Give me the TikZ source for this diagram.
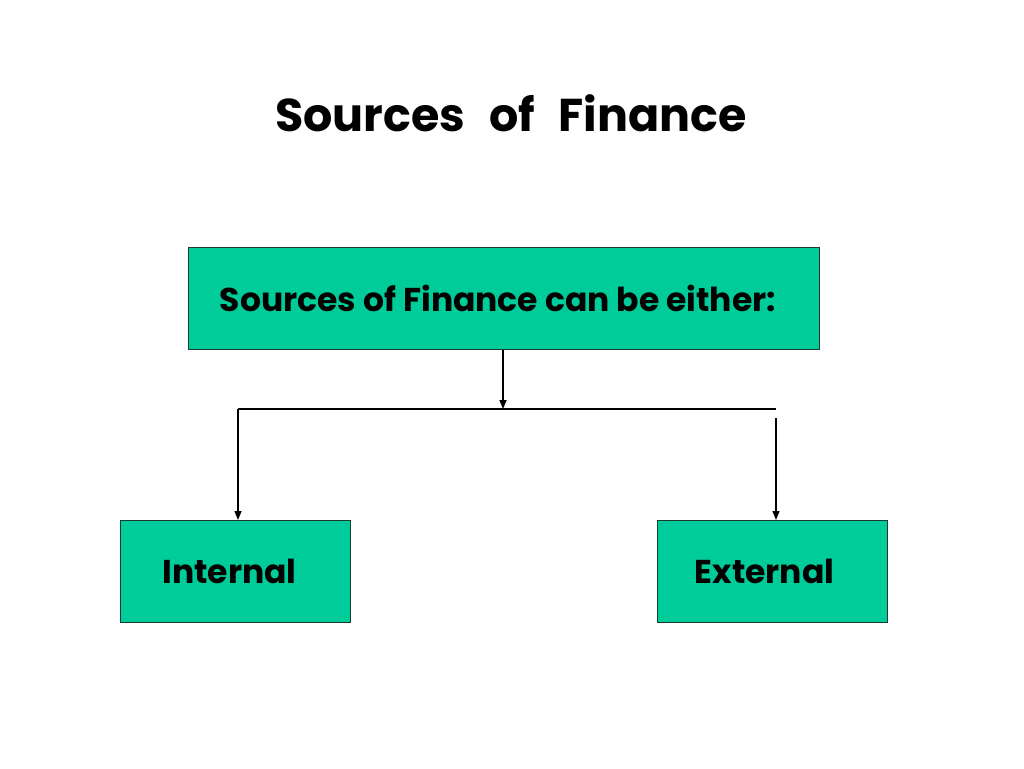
\documentclass[tikz,border=0pt]{standalone}
\usepackage{fontspec}
\setmainfont{Poppins}
\usetikzlibrary{arrows.meta}
\definecolor{boxgreen}{HTML}{00CC99}
\definecolor{boxline}{HTML}{1A3A30}
\begin{document}
\begin{tikzpicture}[x=1pt,y=-1pt,
  box/.style={draw=boxline,line width=1pt,fill=boxgreen,inner sep=0pt,anchor=north west,font=\bfseries\fontsize{33}{38}\selectfont},
  conn/.style={line width=1.4pt,black},
  arr/.style={conn,-{Triangle[length=9pt,width=7pt]}}]
\useasboundingbox (0,0) rectangle (1024,768);
\node[font=\bfseries\fontsize{46}{54}\selectfont] (title) at (511,113) {Sources\hspace{14pt} of\hspace{14pt} Finance};
\node[box,minimum width=631pt,minimum height=102pt] (top) at (188,247) {Sources of Finance can be either:\kern12pt};
\node[box,minimum width=230pt,minimum height=102pt] (int) at (120,520) {Internal\kern12pt};
\node[box,minimum width=230pt,minimum height=102pt] (ext) at (657,520) {External\kern16pt};
\coordinate (hl) at (238,409);
\coordinate (hm) at (503,409);
\coordinate (hr) at (776,409);
\coordinate (rs) at (776,418);
\draw[conn] (hl) -- (hr);
\draw[arr] (top.south -| hm) -- (hm);
\draw[arr] (hl) -- (hl |- int.north);
\draw[arr] (rs) -- (rs |- ext.north);
\end{tikzpicture}
\end{document}
